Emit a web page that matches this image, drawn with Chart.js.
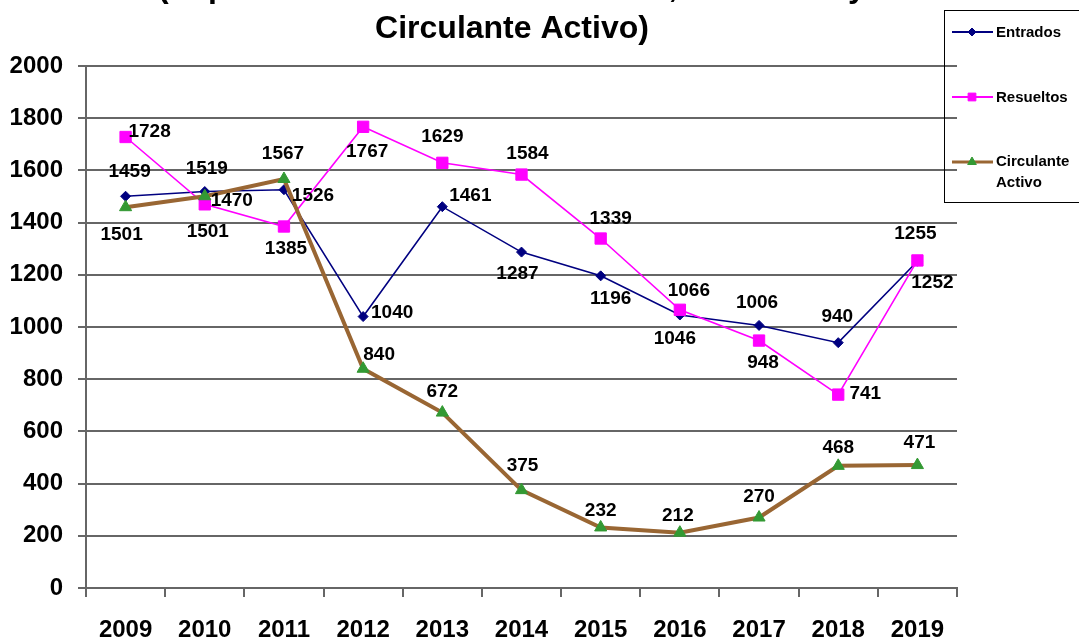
<!DOCTYPE html>
<html>
<head>
<meta charset="utf-8">
<script src="https://cdn.jsdelivr.net/npm/chart.js@4/dist/chart.umd.min.js"></script>
<style>
  html, body { margin: 0; padding: 0; background: #ffffff; }
  #wrap { position: relative; width: 1079px; height: 638px; }
</style>
</head>
<body>
<div id="wrap"><canvas id="c" width="1079" height="638"></canvas></div>
<script>
// ---- data ----
const years = ['2009','2010','2011','2012','2013','2014','2015','2016','2017','2018','2019'];
const entrados   = [1501, 1519, 1526, 1040, 1461, 1287, 1196, 1046, 1006, 940, 1252];
const resueltos  = [1728, 1470, 1385, 1767, 1629, 1584, 1339, 1066, 948, 741, 1255];
const circulante = [1459, 1501, 1567, 840, 672, 375, 232, 212, 270, 468, 471];
// label texts as printed on the original chart
const entradosLabels   = ['1459','1519','1526','1040','1461','1287','1196','1046','1006','940','1252'];
const resueltosLabels  = ['1728','1470','1385','1767','1629','1584','1339','1066','948','741','1255'];
const circulanteLabels = ['1501','1501','1567','840','672','375','232','212','270','468','471'];
const yTicks = [0, 200, 400, 600, 800, 1000, 1200, 1400, 1600, 1800, 2000];
const titleLines = ['(Expedientes Judiciales Entrados, Resueltos y', 'Circulante Activo)'];
const seriesNames = ['Entrados', 'Resueltos', 'Circulante Activo'];

// label placement (offsets from the point, in pixels)
const labelOffsets = [
  [[4,-24],[2,-23],[29,6],[29,-4],[28,-11],[-4,22],[10,23],[-5,24],[-2,-23],[-1,-26],[15,22]],
  [[24,-5],[27,-4],[2,22],[4,25],[0,-26],[6,-21],[10,-20],[9,-19],[4,22],[27,-1],[-2,-27]],
  [[-4,28],[3,36],[-1,-25],[16,-14],[0,-21],[1,-24],[0,-17],[-2,-17],[0,-21],[0,-18],[2,-22]]
];
const labelTexts = [entradosLabels, resueltosLabels, circulanteLabels];

const FONT = '"Liberation Sans", Arial, Helvetica, sans-serif';

const titlePlugin = {
  id: 'titleDraw',
  afterDraw(chart) {
    const ctx = chart.ctx;
    ctx.save();
    ctx.fillStyle = '#000';
    ctx.font = 'bold 32px ' + FONT;
    ctx.textAlign = 'center';
    ctx.textBaseline = 'alphabetic';
    ctx.fillText(titleLines[0], 512, -3);
    ctx.fillText(titleLines[1], 512, 38);
    ctx.restore();
  }
};

const labelsPlugin = {
  id: 'pointLabels',
  afterDatasetsDraw(chart) {
    const ctx = chart.ctx;
    ctx.save();
    ctx.fillStyle = '#000';
    ctx.font = 'bold 19px ' + FONT;
    ctx.textAlign = 'center';
    ctx.textBaseline = 'middle';
    chart.data.datasets.forEach((ds, di) => {
      const meta = chart.getDatasetMeta(di);
      meta.data.forEach((pt, i) => {
        const off = labelOffsets[di][i];
        ctx.fillText(labelTexts[di][i], pt.x + off[0], pt.y + off[1]);
      });
    });
    ctx.restore();
  }
};

const legendPlugin = {
  id: 'boxLegend',
  afterDraw(chart) {
    const ctx = chart.ctx;
    ctx.save();
    ctx.strokeStyle = '#000';
    ctx.lineWidth = 1;
    ctx.strokeRect(944.5, 10.5, 200, 192);
    const rows = [32, 97, 162];
    chart.data.datasets.forEach((ds, i) => {
      const y = rows[i];
      ctx.strokeStyle = ds.borderColor;
      ctx.lineWidth = i === 2 ? 3 : 2;
      ctx.beginPath();
      ctx.moveTo(952, y);
      ctx.lineTo(993, y);
      ctx.stroke();
      ctx.fillStyle = ds.pointBackgroundColor;
      ctx.strokeStyle = ds.pointBorderColor;
      ctx.lineWidth = 1;
      const r = [4, 5.5, 5][i];
      Chart.helpers.drawPoint(ctx, {pointStyle: ds.pointStyle, radius: r, rotation: 0, borderWidth: 1}, 972, y);
      ctx.fillStyle = '#000';
      ctx.font = 'bold 15px ' + FONT;
      ctx.textAlign = 'left';
      ctx.textBaseline = 'middle';
      if (i === 2) {
        ctx.fillText('Circulante', 996, 162);
        ctx.fillText('Activo', 996, 183);
      } else {
        ctx.fillText(seriesNames[i], 996, y + 1);
      }
    });
    ctx.restore();
  }
};

new Chart(document.getElementById('c'), {
  type: 'line',
  data: {
    labels: years,
    datasets: [
      {
        label: seriesNames[0], data: entrados, order: 3,
        borderColor: '#000080', borderWidth: 1.6,
        pointStyle: 'rectRot', pointRadius: 5,
        pointBackgroundColor: '#000080', pointBorderColor: '#000080', pointBorderWidth: 1,
        tension: 0
      },
      {
        label: seriesNames[1], data: resueltos, order: 2,
        borderColor: '#FF00FF', borderWidth: 1.6,
        pointStyle: 'rect', pointRadius: 8,
        pointBackgroundColor: '#FF00FF', pointBorderColor: '#FF00FF', pointBorderWidth: 1,
        tension: 0
      },
      {
        label: seriesNames[2], data: circulante, order: 1,
        borderColor: '#996633', borderWidth: 4,
        pointStyle: 'triangle', pointRadius: 7,
        pointBackgroundColor: '#339933', pointBorderColor: '#339933', pointBorderWidth: 1,
        tension: 0
      }
    ]
  },
  options: {
    responsive: false,
    animation: false,
    devicePixelRatio: 1,
    layout: { padding: { left: 0, top: 66, right: 122, bottom: 0 } },
    plugins: { legend: { display: false }, title: { display: false }, tooltip: { enabled: false } },
    scales: {
      x: {
        offset: true,
        afterFit(s) { s.height = 50; },
        grid: { offset: true, drawOnChartArea: false, drawTicks: true, tickLength: 9, color: '#666666', lineWidth: 2 },
        border: { display: true, color: '#666666', width: 2 },
        ticks: { color: '#000', font: { family: FONT, size: 24, weight: 'bold' }, padding: 19, maxRotation: 0, autoSkip: false }
      },
      y: {
        min: 0, max: 2000,
        afterFit(s) { s.width = 86; },
        afterBuildTicks(s) { s.ticks = yTicks.map(v => ({ value: v })); },
        grid: { color: '#666666', lineWidth: 2, drawTicks: true, tickLength: 8 },
        border: { display: true, color: '#666666', width: 2 },
        ticks: {
          color: '#000', font: { family: FONT, size: 24, weight: 'bold' }, padding: 15,
          callback: (v) => String(v)
        }
      }
    }
  },
  plugins: [titlePlugin, labelsPlugin, legendPlugin]
});
</script>
</body>
</html>
